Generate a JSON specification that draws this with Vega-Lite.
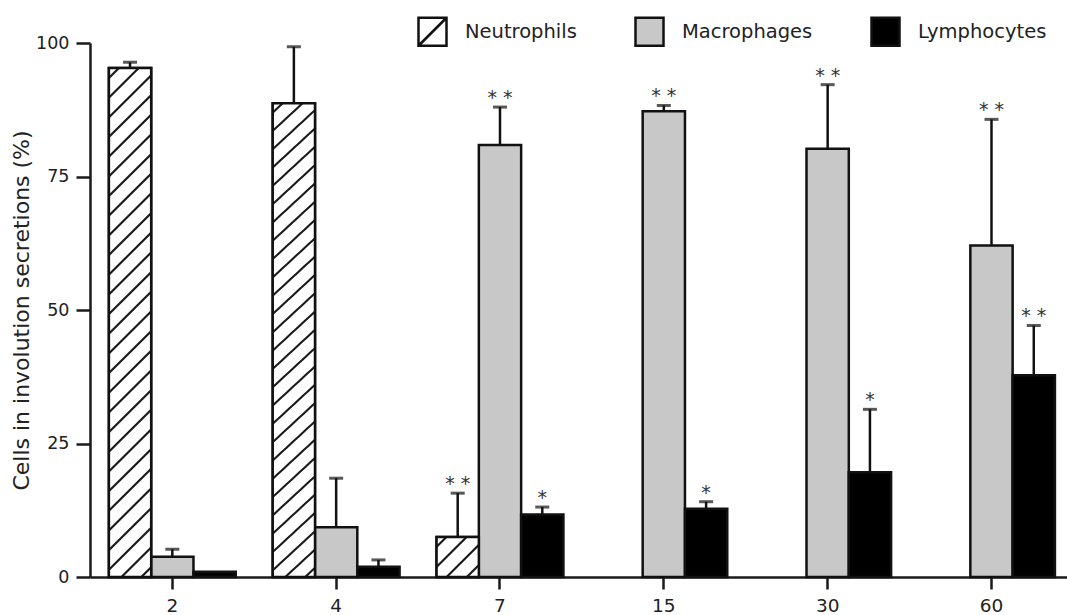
{
  "$schema": "https://vega.github.io/schema/vega-lite/v6.json",
  "width": 977,
  "height": 534,
  "autosize": {"type": "none"},
  "padding": {"left": 90, "top": 43, "right": 0, "bottom": 38},
  "background": "white",
  "config": {
    "view": {"stroke": null},
    "font": "DejaVu Sans",
    "axis": {
      "domainColor": "#1a1a1a", "domainWidth": 2.5, "tickColor": "#1a1a1a", "tickWidth": 2.5,
      "labelColor": "#222222", "labelFont": "DejaVu Sans", "labelFontSize": 17.5,
      "titleFont": "DejaVu Sans", "titleFontSize": 22, "titleFontWeight": "normal", "titleColor": "#222222",
      "grid": false
    },
    "axisX": {"tickSize": 12, "labelPadding": 7, "labelAngle": 0, "labelFontSize": 18.5},
    "axisY": {"tickSize": 14, "labelPadding": 7, "titlePadding": 2}
  },
  "data": {
    "values": [
      {"day": "2", "type": "Neutrophils", "mean": 95.3, "upper": 96.4, "sig": ""},
      {"day": "2", "type": "Macrophages", "mean": 3.8, "upper": 5.2, "sig": ""},
      {"day": "2", "type": "Lymphocytes", "mean": 1.0, "upper": null, "sig": ""},
      {"day": "4", "type": "Neutrophils", "mean": 88.7, "upper": 99.3, "sig": ""},
      {"day": "4", "type": "Macrophages", "mean": 9.3, "upper": 18.5, "sig": ""},
      {"day": "4", "type": "Lymphocytes", "mean": 1.9, "upper": 3.2, "sig": ""},
      {"day": "7", "type": "Neutrophils", "mean": 7.5, "upper": 15.7, "sig": "* *"},
      {"day": "7", "type": "Macrophages", "mean": 80.9, "upper": 88.0, "sig": "* *"},
      {"day": "7", "type": "Lymphocytes", "mean": 11.7, "upper": 13.1, "sig": "*"},
      {"day": "15", "type": "Macrophages", "mean": 87.2, "upper": 88.3, "sig": "* *"},
      {"day": "15", "type": "Lymphocytes", "mean": 12.8, "upper": 14.1, "sig": "*"},
      {"day": "30", "type": "Macrophages", "mean": 80.2, "upper": 92.2, "sig": "* *"},
      {"day": "30", "type": "Lymphocytes", "mean": 19.6, "upper": 31.4, "sig": "*"},
      {"day": "60", "type": "Macrophages", "mean": 62.1, "upper": 85.7, "sig": "* *"},
      {"day": "60", "type": "Lymphocytes", "mean": 37.8, "upper": 47.1, "sig": "* *"}
    ]
  },
  "encoding": {
    "x": {
      "field": "day", "type": "nominal", "sort": ["2", "4", "7", "15", "30", "60"],
      "scale": {"paddingInner": 0.2256, "paddingOuter": 0.0945, "align": 0.61},
      "axis": {"title": null}
    },
    "xOffset": {
      "field": "type", "type": "nominal",
      "scale": {"domain": ["Neutrophils", "Macrophages", "Lymphocytes"], "paddingInner": 0, "paddingOuter": 0}
    }
  },
  "layer": [
    {
      "mark": {"type": "bar", "stroke": "#111111", "strokeWidth": 2.5},
      "encoding": {
        "y": {"field": "mean", "type": "quantitative", "title": "Cells in involution secretions (%)",
              "scale": {"domain": [0, 100], "nice": false},
              "axis": {"values": [0, 25, 50, 75, 100]}},
        "fill": {
          "field": "type", "type": "nominal",
          "scale": {"domain": ["Neutrophils", "Macrophages", "Lymphocytes"], "range": ["#ffffff", "#c8c8c8", "#000000"]},
          "legend": {
            "title": null, "orient": "none", "legendX": 327, "legendY": -27, "direction": "horizontal",
            "symbolType": "square", "symbolSize": 784, "symbolStrokeColor": "#111111", "symbolStrokeWidth": 2.5,
            "labelFontSize": 19.5, "labelFont": "DejaVu Sans", "labelColor": "#222222", "labelOffset": 17,
            "columnPadding": 53, "gridAlign": "each", "padding": 0,
            "encode": {"symbols": {"update": {"shape": {"signal": "datum.value === 'Neutrophils' ? 'M-1,-1H1V1H-1Z M-1,1L1,-1' : 'square'"}}}}
          }
        }
      }
    },
    {
      "transform": [{"filter": "datum.type === 'Neutrophils'"}],
      "mark": {"type": "bar", "stroke": "#111111", "strokeWidth": 2.5},
      "encoding": {
        "y": {"field": "mean", "type": "quantitative", "title": "Cells in involution secretions (%)"},
        "fill": {
          "condition": {
            "test": "datum.day === '7'",
            "value": {"gradient": "linear", "x1": 0, "y1": 0, "x2": 1.024, "y2": 0.975, "stops": [
              {"offset": 0, "color": "#ffffff"},
              {"offset": 0.093, "color": "#ffffff"}, {"offset": 0.110, "color": "#1a1a1a"}, {"offset": 0.130, "color": "#1a1a1a"}, {"offset": 0.147, "color": "#ffffff"},
              {"offset": 0.338, "color": "#ffffff"}, {"offset": 0.355, "color": "#1a1a1a"}, {"offset": 0.375, "color": "#1a1a1a"}, {"offset": 0.392, "color": "#ffffff"},
              {"offset": 0.583, "color": "#ffffff"}, {"offset": 0.600, "color": "#1a1a1a"}, {"offset": 0.620, "color": "#1a1a1a"}, {"offset": 0.637, "color": "#ffffff"},
              {"offset": 0.828, "color": "#ffffff"}, {"offset": 0.845, "color": "#1a1a1a"}, {"offset": 0.865, "color": "#1a1a1a"}, {"offset": 0.882, "color": "#ffffff"},
              {"offset": 1, "color": "#ffffff"}
            ]}
          },
          "value": {"gradient": "linear", "x1": 0, "y1": 0, "x2": 0.0887, "y2": 1.075, "stops": [
            {"offset": 0, "color": "#ffffff"},
            {"offset": 0.0140, "color": "#ffffff"}, {"offset": 0.0165, "color": "#1a1a1a"}, {"offset": 0.0195, "color": "#1a1a1a"}, {"offset": 0.0220, "color": "#ffffff"},
            {"offset": 0.0497, "color": "#ffffff"}, {"offset": 0.0522, "color": "#1a1a1a"}, {"offset": 0.0552, "color": "#1a1a1a"}, {"offset": 0.0577, "color": "#ffffff"},
            {"offset": 0.0854, "color": "#ffffff"}, {"offset": 0.0879, "color": "#1a1a1a"}, {"offset": 0.0909, "color": "#1a1a1a"}, {"offset": 0.0934, "color": "#ffffff"},
            {"offset": 0.1211, "color": "#ffffff"}, {"offset": 0.1236, "color": "#1a1a1a"}, {"offset": 0.1266, "color": "#1a1a1a"}, {"offset": 0.1291, "color": "#ffffff"},
            {"offset": 0.1569, "color": "#ffffff"}, {"offset": 0.1594, "color": "#1a1a1a"}, {"offset": 0.1624, "color": "#1a1a1a"}, {"offset": 0.1649, "color": "#ffffff"},
            {"offset": 0.1926, "color": "#ffffff"}, {"offset": 0.1951, "color": "#1a1a1a"}, {"offset": 0.1981, "color": "#1a1a1a"}, {"offset": 0.2006, "color": "#ffffff"},
            {"offset": 0.2283, "color": "#ffffff"}, {"offset": 0.2308, "color": "#1a1a1a"}, {"offset": 0.2338, "color": "#1a1a1a"}, {"offset": 0.2363, "color": "#ffffff"},
            {"offset": 0.2640, "color": "#ffffff"}, {"offset": 0.2665, "color": "#1a1a1a"}, {"offset": 0.2695, "color": "#1a1a1a"}, {"offset": 0.2720, "color": "#ffffff"},
            {"offset": 0.2997, "color": "#ffffff"}, {"offset": 0.3022, "color": "#1a1a1a"}, {"offset": 0.3052, "color": "#1a1a1a"}, {"offset": 0.3077, "color": "#ffffff"},
            {"offset": 0.3354, "color": "#ffffff"}, {"offset": 0.3379, "color": "#1a1a1a"}, {"offset": 0.3409, "color": "#1a1a1a"}, {"offset": 0.3434, "color": "#ffffff"},
            {"offset": 0.3711, "color": "#ffffff"}, {"offset": 0.3736, "color": "#1a1a1a"}, {"offset": 0.3766, "color": "#1a1a1a"}, {"offset": 0.3791, "color": "#ffffff"},
            {"offset": 0.4069, "color": "#ffffff"}, {"offset": 0.4094, "color": "#1a1a1a"}, {"offset": 0.4124, "color": "#1a1a1a"}, {"offset": 0.4149, "color": "#ffffff"},
            {"offset": 0.4426, "color": "#ffffff"}, {"offset": 0.4451, "color": "#1a1a1a"}, {"offset": 0.4481, "color": "#1a1a1a"}, {"offset": 0.4506, "color": "#ffffff"},
            {"offset": 0.4783, "color": "#ffffff"}, {"offset": 0.4808, "color": "#1a1a1a"}, {"offset": 0.4838, "color": "#1a1a1a"}, {"offset": 0.4863, "color": "#ffffff"},
            {"offset": 0.5140, "color": "#ffffff"}, {"offset": 0.5165, "color": "#1a1a1a"}, {"offset": 0.5195, "color": "#1a1a1a"}, {"offset": 0.5220, "color": "#ffffff"},
            {"offset": 0.5497, "color": "#ffffff"}, {"offset": 0.5522, "color": "#1a1a1a"}, {"offset": 0.5552, "color": "#1a1a1a"}, {"offset": 0.5577, "color": "#ffffff"},
            {"offset": 0.5854, "color": "#ffffff"}, {"offset": 0.5879, "color": "#1a1a1a"}, {"offset": 0.5909, "color": "#1a1a1a"}, {"offset": 0.5934, "color": "#ffffff"},
            {"offset": 0.6211, "color": "#ffffff"}, {"offset": 0.6236, "color": "#1a1a1a"}, {"offset": 0.6266, "color": "#1a1a1a"}, {"offset": 0.6291, "color": "#ffffff"},
            {"offset": 0.6569, "color": "#ffffff"}, {"offset": 0.6594, "color": "#1a1a1a"}, {"offset": 0.6624, "color": "#1a1a1a"}, {"offset": 0.6649, "color": "#ffffff"},
            {"offset": 0.6926, "color": "#ffffff"}, {"offset": 0.6951, "color": "#1a1a1a"}, {"offset": 0.6981, "color": "#1a1a1a"}, {"offset": 0.7006, "color": "#ffffff"},
            {"offset": 0.7283, "color": "#ffffff"}, {"offset": 0.7308, "color": "#1a1a1a"}, {"offset": 0.7338, "color": "#1a1a1a"}, {"offset": 0.7363, "color": "#ffffff"},
            {"offset": 0.7640, "color": "#ffffff"}, {"offset": 0.7665, "color": "#1a1a1a"}, {"offset": 0.7695, "color": "#1a1a1a"}, {"offset": 0.7720, "color": "#ffffff"},
            {"offset": 0.7997, "color": "#ffffff"}, {"offset": 0.8022, "color": "#1a1a1a"}, {"offset": 0.8052, "color": "#1a1a1a"}, {"offset": 0.8077, "color": "#ffffff"},
            {"offset": 0.8354, "color": "#ffffff"}, {"offset": 0.8379, "color": "#1a1a1a"}, {"offset": 0.8409, "color": "#1a1a1a"}, {"offset": 0.8434, "color": "#ffffff"},
            {"offset": 0.8711, "color": "#ffffff"}, {"offset": 0.8736, "color": "#1a1a1a"}, {"offset": 0.8766, "color": "#1a1a1a"}, {"offset": 0.8791, "color": "#ffffff"},
            {"offset": 0.9069, "color": "#ffffff"}, {"offset": 0.9094, "color": "#1a1a1a"}, {"offset": 0.9124, "color": "#1a1a1a"}, {"offset": 0.9149, "color": "#ffffff"},
            {"offset": 0.9426, "color": "#ffffff"}, {"offset": 0.9451, "color": "#1a1a1a"}, {"offset": 0.9481, "color": "#1a1a1a"}, {"offset": 0.9506, "color": "#ffffff"},
            {"offset": 0.9783, "color": "#ffffff"}, {"offset": 0.9808, "color": "#1a1a1a"}, {"offset": 0.9838, "color": "#1a1a1a"}, {"offset": 0.9863, "color": "#ffffff"},
            {"offset": 1, "color": "#ffffff"}
          ]}
        }
      }
    },
    {
      "transform": [{"filter": "isValid(datum.upper)"}],
      "mark": {"type": "rule", "color": "#111111", "strokeWidth": 2.5},
      "encoding": {
        "y": {"field": "mean", "type": "quantitative", "title": "Cells in involution secretions (%)"},
        "y2": {"field": "upper"}
      }
    },
    {
      "transform": [{"filter": "isValid(datum.upper)"}],
      "mark": {"type": "tick", "color": "#111111", "size": 14, "thickness": 3, "orient": "horizontal"},
      "encoding": {
        "y": {"field": "upper", "type": "quantitative", "title": "Cells in involution secretions (%)"}
      }
    },
    {
      "transform": [{"filter": "datum.sig !== ''"}],
      "mark": {"type": "text", "baseline": "alphabetic", "dy": -3, "fontSize": 19, "font": "DejaVu Sans", "color": "#333333"},
      "encoding": {
        "y": {"field": "upper", "type": "quantitative", "title": "Cells in involution secretions (%)"},
        "text": {"field": "sig"}
      }
    }
  ]
}
